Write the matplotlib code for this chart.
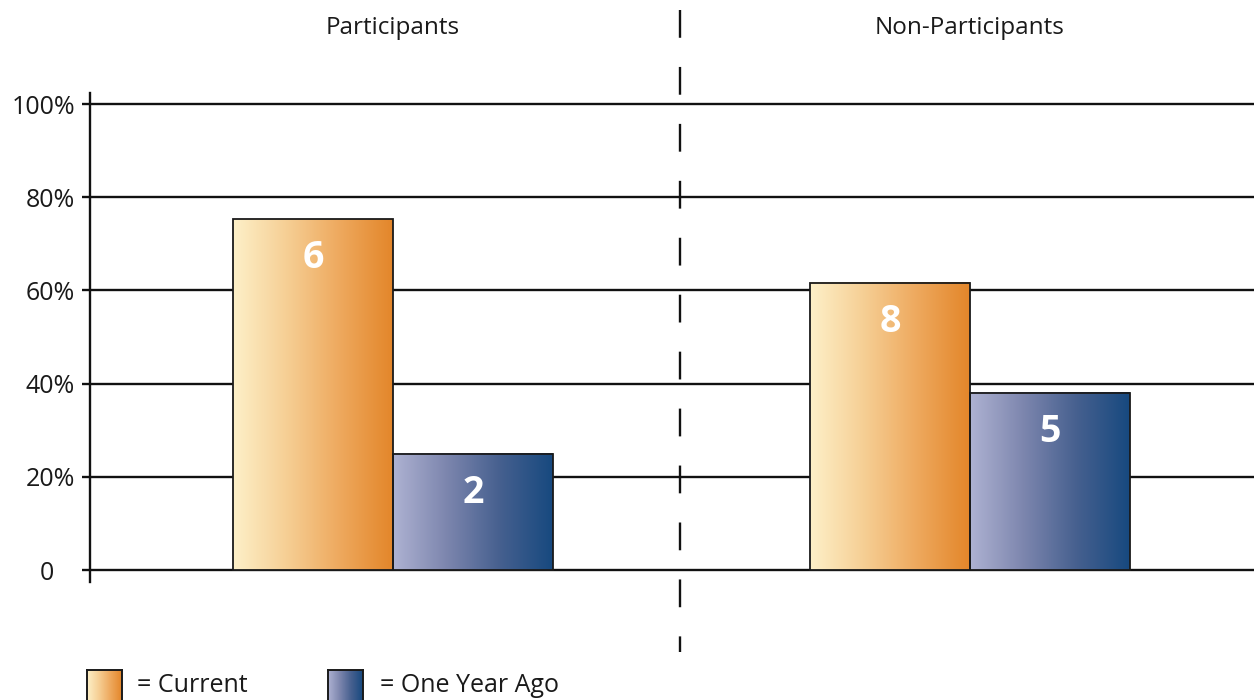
import matplotlib.pyplot as plt
import matplotlib.transforms as mtransforms
from matplotlib.colors import LinearSegmentedColormap
from matplotlib.lines import Line2D
import numpy as np

plt.rcParams['font.family'] = ['Open Sans', 'DejaVu Sans']
plt.rcParams['lines.scale_dashes'] = False

# данные
groups = ['Participants', 'Non-Participants']
series = ['Current', 'One Year Ago']
values = {
    'Current': [75.3, 61.6],
    'One Year Ago': [24.9, 38.0],
}
bar_labels = {
    'Current': ['6', '8'],
    'One Year Ago': ['2', '5'],
}
yticks = [0, 20, 40, 60, 80, 100]
ytick_labels = ['0', '20%', '40%', '60%', '80%', '100%']

cmaps = {
    'Current': LinearSegmentedColormap.from_list(
        'cur', ['#FDF0C8', '#F6CF95', '#EEA95E', '#E3862A']),
    'One Year Ago': LinearSegmentedColormap.from_list(
        'ago', ['#AEB2D2', '#7D86AE', '#46608F', '#17497F']),
}

W, H = 1254, 700
fig = plt.figure(figsize=(W / 100, H / 100), dpi=100)
fig.patch.set_facecolor('white')

# оси: 0 -> y=570px, 100 -> y=104px
px_per_unit = (570 - 104) / 100
y_bottom = -(582 - 570) / px_per_unit
y_top = 100 + (104 - 93) / px_per_unit
ax = fig.add_axes([90 / W, (H - 582) / H, (W - 90) / W, (582 - 93) / H])

# x: центр групп в 393px и 970px
unit = 970 - 393
x_left = (90 - 393) / unit
x_right = (W - 393) / unit

width = 160 / unit
x = np.arange(len(groups))
offsets = {'Current': -width / 2, 'One Year Ago': width / 2}

for yv in yticks:
    ax.axhline(yv, color='#111111', lw=1.7, zorder=1)

grad = np.linspace(0, 1, 256).reshape(1, -1)
for s in series:
    bars = ax.bar(x + offsets[s], values[s], width, facecolor='none',
                  edgecolor='#1a1a1a', lw=1.3, zorder=3)
    for b, lab in zip(bars, bar_labels[s]):
        x0, x1 = b.get_x(), b.get_x() + b.get_width()
        h = b.get_height()
        ax.imshow(grad, cmap=cmaps[s], aspect='auto',
                  extent=(x0, x1, 0, h), zorder=2, interpolation='bilinear')
        ax.annotate(lab, (b.get_x() + b.get_width() / 2, h), xytext=(0, -28),
                    textcoords='offset points', ha='center', va='center',
                    color='white', fontsize=27, fontweight='bold', zorder=4)

ax.set_xlim(x_left, x_right)
ax.set_ylim(y_bottom, y_top)

for sp in ['top', 'right', 'bottom']:
    ax.spines[sp].set_visible(False)
ax.spines['left'].set_linewidth(1.7)
ax.spines['left'].set_color('#111111')
ax.set_xticks([])
ax.set_yticks(yticks)
ax.set_yticklabels(ytick_labels, fontsize=18, color='#1a1a1a')
ax.tick_params(axis='y', length=5.8, width=1.7, color='#111111', pad=5)
lbl0 = ax.get_yticklabels()[0]
lbl0.set_transform(lbl0.get_transform() +
                   mtransforms.ScaledTranslation(-0.21, 0, fig.dpi_scale_trans))

# заголовки групп
trans = mtransforms.blended_transform_factory(ax.transData, fig.transFigure)
for xi, g in zip(x, groups):
    ax.text(xi, 1 - 28 / H, g, transform=trans, ha='center', va='center',
            fontsize=17.5, color='#1a1a1a')

# пунктирная линия между группами
fig.add_artist(Line2D([680 / W, 680 / W], [1 - 10 / H, 1 - 652 / H],
                      transform=fig.transFigure, color='#111111', lw=1.7,
                      linestyle=(0, (20, 21))))

# легенда
legend_items = [(87, 137, 'Current'), (328, 380, 'One Year Ago')]
for sx, tx, s in legend_items:
    lax = fig.add_axes([sx / W, -0.02, 35 / W, (H - 670) / H + 0.02])
    lax.imshow(grad, cmap=cmaps[s], aspect='auto', interpolation='bilinear')
    lax.set_xticks([])
    lax.set_yticks([])
    for sp in lax.spines.values():
        sp.set_linewidth(1.4)
        sp.set_color('#1a1a1a')
    fig.text(tx / W, 1 - 686 / H, '= ' + s, ha='left', va='center',
             fontsize=18, color='#1a1a1a')

fig.savefig('out.png', dpi=100)
